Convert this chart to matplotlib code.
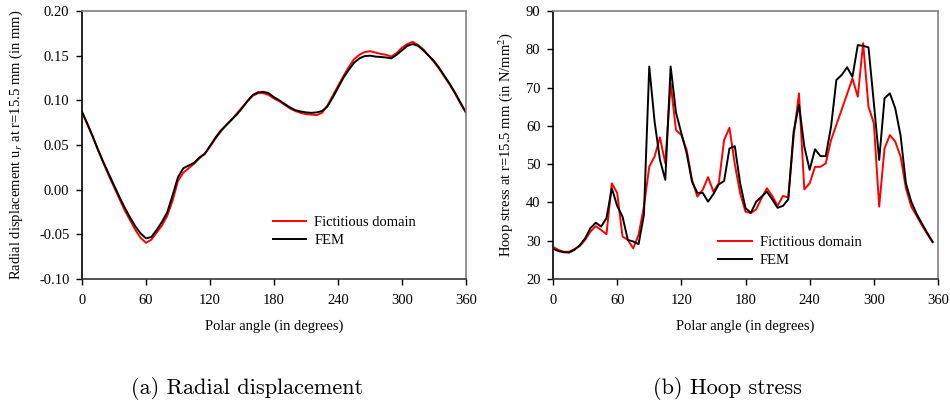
import matplotlib
matplotlib.use('Agg')
import matplotlib.pyplot as plt

# polar angles (degrees)
angle_disp = list(range(0, 365, 5))
angle_hoop = list(range(0, 360, 5))

# radial displacement u_r (mm)
fd_disp = [0.087, 0.073, 0.059, 0.044, 0.030, 0.016, 0.003, -0.010, -0.023, -0.034,
           -0.045, -0.054, -0.0595, -0.056, -0.048, -0.040, -0.029, -0.012, 0.010, 0.019,
           0.024, 0.029, 0.035, 0.040, 0.048, 0.057, 0.065, 0.072, 0.078, 0.085,
           0.092, 0.099, 0.105, 0.108, 0.108, 0.106, 0.102, 0.099, 0.095, 0.091,
           0.088, 0.086, 0.0845, 0.084, 0.0835, 0.086, 0.094, 0.105, 0.116, 0.127,
           0.137, 0.146, 0.151, 0.154, 0.155, 0.1535, 0.152, 0.151, 0.149, 0.153,
           0.159, 0.163, 0.1655, 0.162, 0.157, 0.150, 0.143, 0.135, 0.126, 0.117,
           0.107, 0.096, 0.086]
fem_disp = [0.087, 0.074, 0.060, 0.045, 0.031, 0.018, 0.005, -0.008, -0.020, -0.031,
            -0.041, -0.049, -0.0545, -0.053, -0.045, -0.036, -0.025, -0.006, 0.014, 0.024,
            0.027, 0.030, 0.036, 0.040, 0.049, 0.058, 0.066, 0.072, 0.078, 0.084,
            0.091, 0.099, 0.106, 0.109, 0.1095, 0.108, 0.1035, 0.100, 0.096, 0.092,
            0.089, 0.0875, 0.0865, 0.086, 0.0865, 0.088, 0.093, 0.103, 0.114, 0.125,
            0.134, 0.142, 0.147, 0.1495, 0.150, 0.149, 0.1485, 0.148, 0.147, 0.151,
            0.156, 0.161, 0.163, 0.161, 0.156, 0.150, 0.144, 0.136, 0.127, 0.118,
            0.108, 0.097, 0.0865]

# hoop stress (N/mm^2)
fd_hoop = [28.4, 27.6, 27.1, 27.1, 27.8, 28.6, 30.2, 32.4, 33.8, 32.8,
           31.7, 45.0, 42.5, 31.1, 30.2, 28.0, 31.5, 38.9, 49.3, 52.0,
           57.0, 50.2, 71.1, 58.9, 57.6, 53.7, 45.9, 41.5, 43.3, 46.6,
           42.8, 45.0, 56.3, 59.5, 50.0, 42.4, 37.6, 37.2, 38.2, 41.1,
           43.7, 41.7, 39.1, 41.7, 41.3, 57.2, 68.5, 43.4, 45.0, 49.3,
           49.3, 50.2, 56.3, 60.3, 64.3, 68.3, 72.4, 67.6, 81.6, 65.0,
           60.7, 38.9, 54.1, 57.6, 55.9, 52.0, 43.7, 38.9, 36.5, 34.0,
           31.7, 29.6]
fem_hoop = [27.9, 27.3, 27.0, 26.9, 27.6, 28.8, 30.6, 33.3, 34.7, 33.7,
            35.9, 43.7, 39.1, 36.3, 30.2, 29.8, 29.1, 36.7, 75.5, 61.1,
            51.1, 45.9, 75.5, 63.5, 58.1, 52.8, 45.4, 42.5, 42.5, 40.2,
            42.2, 44.7, 45.6, 54.1, 54.7, 45.0, 38.5, 37.3, 40.2, 41.5,
            42.8, 40.8, 38.6, 39.1, 40.8, 58.5, 65.5, 54.6, 48.5, 53.9,
            52.1, 52.1, 59.8, 72.0, 73.3, 75.3, 72.8, 81.1, 80.9, 80.5,
            66.0, 51.1, 67.2, 68.5, 64.6, 57.5, 45.0, 40.2, 37.0, 34.5,
            32.0, 29.7]

x_ticks = [0, 60, 120, 180, 240, 300, 360]
disp_ticks = [-0.10, -0.05, 0.00, 0.05, 0.10, 0.15, 0.20]
disp_tick_labels = ['-0.10', '-0.05', '0.00', '0.05', '0.10', '0.15', '0.20']
hoop_ticks = [20, 30, 40, 50, 60, 70, 80, 90]

plt.rcParams['font.family'] = 'Liberation Serif'
plt.rcParams['mathtext.fontset'] = 'stix'
plt.rcParams['font.size'] = 10.5


def style_axes(ax):
    ax.spines['left'].set_color('black')
    ax.spines['bottom'].set_color('#333333')
    ax.spines['top'].set_color('#808080')
    ax.spines['right'].set_color('#808080')
    for s in ax.spines.values():
        s.set_linewidth(1.2)
    ax.tick_params(direction='out', length=4, width=1.0, top=False, right=False)
    ax.tick_params(axis='x', pad=7)
    ax.tick_params(axis='y', pad=5)
    ax.set_xlim(0, 360)
    ax.set_xticks(x_ticks)
    ax.set_xlabel('Polar angle (in degrees)')
    ax.xaxis.set_label_coords(0.5, -0.15)


fig = plt.figure(figsize=(9.5, 4.04), dpi=100)
ax1 = fig.add_axes([82 / 950, 1 - 279 / 404, 384 / 950, 268 / 404])
ax2 = fig.add_axes([553 / 950, 1 - 279 / 404, 385 / 950, 268 / 404])

# (a) radial displacement
ax1.plot(angle_disp, fd_disp, color='#ff0000', lw=1.4, label='Fictitious domain')
ax1.plot(angle_disp, fem_disp, color='black', lw=1.4, label='FEM')
style_axes(ax1)
ax1.set_ylim(-0.10, 0.20)
ax1.set_yticks(disp_ticks)
ax1.set_yticklabels(disp_tick_labels)
ax1.set_ylabel('Radial displacement u$_r$ at r=15.5 mm (in mm)')
ax1.yaxis.set_label_coords(-0.148, 0.5)
ax1.legend(frameon=False, loc='upper left', bbox_to_anchor=(0.497, 0.237),
           borderpad=0, borderaxespad=0, handlelength=2.3, handletextpad=0.55,
           labelspacing=0.33)

# (b) hoop stress
ax2.plot(angle_hoop, fd_hoop, color='#ff0000', lw=1.4, label='Fictitious domain')
ax2.plot(angle_hoop, fem_hoop, color='black', lw=1.4, label='FEM')
style_axes(ax2)
ax2.set_ylim(20, 90)
ax2.set_yticks(hoop_ticks)
ax2.set_ylabel('Hoop stress at r=15.5 mm (in N/mm$^2$)')
ax2.yaxis.set_label_coords(-0.099, 0.5)
ax2.legend(frameon=False, loc='upper left', bbox_to_anchor=(0.4286, 0.161),
           borderpad=0, borderaxespad=0, handlelength=2.3, handletextpad=0.55,
           labelspacing=0.33)

fig.text(247 / 950, 1 - 388 / 404, '(a) Radial displacement', family='cmr10',
         fontsize=16, ha='center', va='center')
fig.text(727 / 950, 1 - 388 / 404, '(b) Hoop stress', family='cmr10',
         fontsize=16, ha='center', va='center')

fig.savefig('out.png', dpi=100)
